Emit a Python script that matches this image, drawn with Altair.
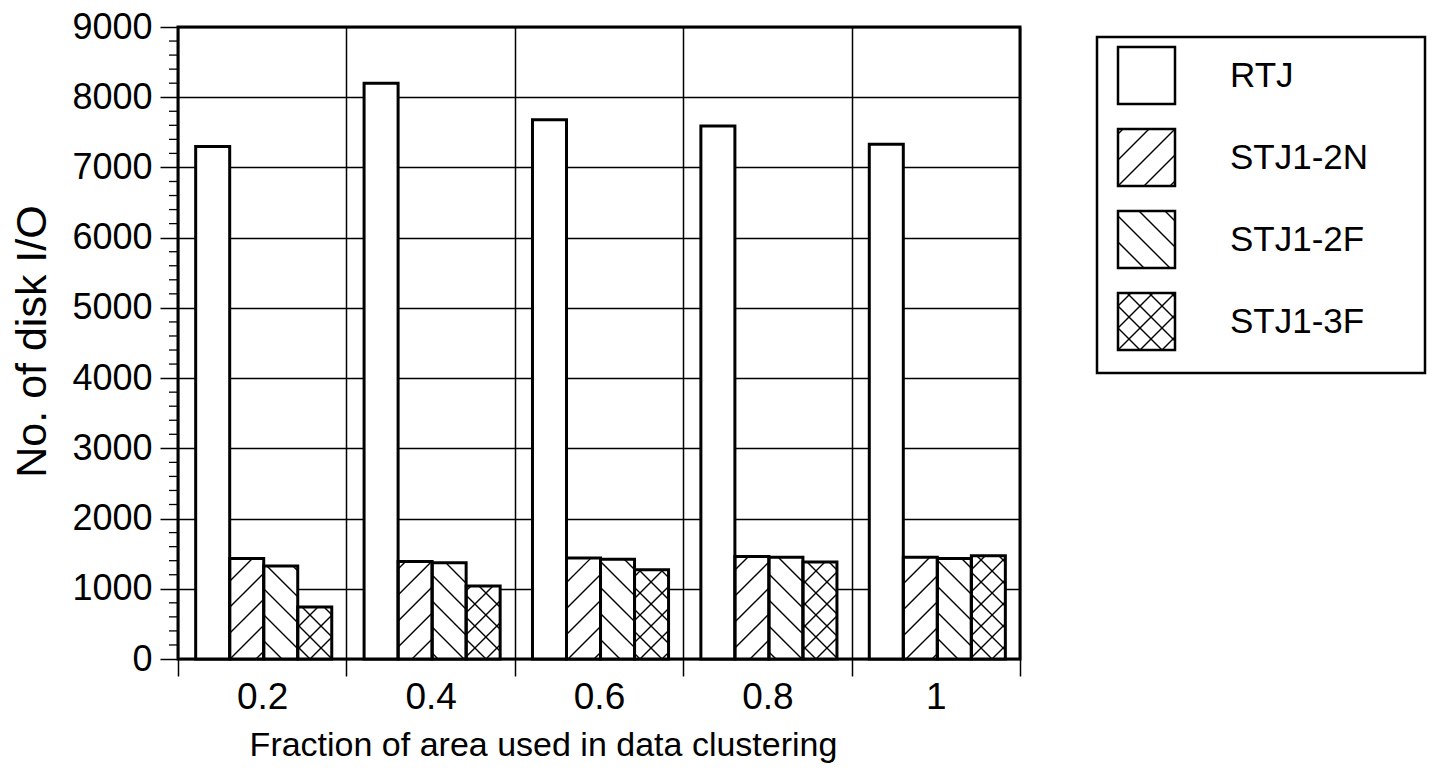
import json

import altair as alt
import pandas as pd

# --- data -------------------------------------------------------------------
FRACTIONS = ["0.2", "0.4", "0.6", "0.8", "1"]
SERIES = ["RTJ", "STJ1-2N", "STJ1-2F", "STJ1-3F"]
RTJ = [7300, 8200, 7680, 7590, 7330]
STJ1_2N = [1430, 1390, 1440, 1460, 1450]
STJ1_2F = [1325, 1370, 1420, 1450, 1430]
STJ1_3F = [740, 1040, 1270, 1380, 1470]
VALUES = {"RTJ": RTJ, "STJ1-2N": STJ1_2N, "STJ1-2F": STJ1_2F, "STJ1-3F": STJ1_3F}
Y_TICKS = list(range(0, 9001, 1000))

# --- layout / style ---------------------------------------------------------
W, H = 842, 632              # plot area in px
PAD_L, PAD_T = 178, 27
TOTAL_W, TOTAL_H = 1437, 772
YMAX = 9000
NG = len(FRACTIONS)
GROUP_LEFT = 0.105           # gap before the first bar of a group (fraction of a group)
BAR_W = 0.202                # bar width (fraction of a group)
FONT = "Liberation Sans"

# hatch families per series: (direction, spacing in px); +1 = "/", -1 = "\"
HATCH = {
    "RTJ": [],
    "STJ1-2N": [(1, 26)],
    "STJ1-2F": [(-1, 26)],
    "STJ1-3F": [(1, 22), (-1, 22)],
}

PX_X = W / NG        # px per x unit
PX_Y = H / YMAX      # px per y unit


def hatch_segments(x0, x1, u0, u1, direction, spacing):
    """Line segments of a 45 degree hatch clipped to the box [x0,x1] x [u0,u1] (u upward)."""
    segs = []
    if direction > 0:          # u = x + c
        lo, hi = u0 - x1, u1 - x0
    else:                      # u = c - x
        lo, hi = x0 + u0, x1 + u1
    k = int(lo // spacing)
    while k * spacing <= hi:
        c = k * spacing
        if direction > 0:
            xs, xe = max(x0, u0 - c), min(x1, u1 - c)
            if xe - xs > 0.5:
                segs.append((xs, xs + c, xe, xe + c))
        else:
            xs, xe = max(x0, c - u1), min(x1, c - u0)
            if xe - xs > 0.5:
                segs.append((xs, c - xs, xe, c - xe))
        k += 1
    return segs


# --- bars --------------------------------------------------------------------
bar_rows, hatch_rows = [], []
for gi, frac in enumerate(FRACTIONS):
    for si, s in enumerate(SERIES):
        v = VALUES[s][gi]
        x0 = gi + GROUP_LEFT + si * BAR_W
        x1 = x0 + BAR_W
        bar_rows.append({"fraction": frac, "series": s, "value": v, "base": 0,
                         "x0": x0, "x1": x1})
        for direction, spacing in HATCH[s]:
            for a, b, c, d in hatch_segments(x0 * PX_X, x1 * PX_X, 0, v * PX_Y,
                                             direction, spacing):
                hatch_rows.append({"hx": a / PX_X, "hy": b / PX_Y,
                                   "hx2": c / PX_X, "hy2": d / PX_Y})

bars = pd.DataFrame(bar_rows)
hatches = pd.DataFrame(hatch_rows)
minor = pd.DataFrame({"v": [t for t in range(0, YMAX + 1, 200) if t % 1000]})

x_scale = alt.Scale(domain=[0, NG], nice=False, zero=False)
y_scale = alt.Scale(domain=[0, YMAX], nice=False)

label_js = json.dumps(FRACTIONS)
x_axis = alt.Axis(
    values=list(range(NG + 1)),
    labelExpr=f"datum.value < {NG} ? {label_js}[datum.value] : ''",
    labelOffset=W / NG / 2,
    labelFlush=False,
    labelOverlap=False,
    labelPadding=3,
    labelFontSize=37,
    tickSize=17,
    grid=True,
    titleX=365,
    titleY=86,
    titleBaseline="middle",
    titleAlign="center",
)
y_axis = alt.Axis(
    values=Y_TICKS,
    format="d",
    tickSize=18,
    labelPadding=8,
    labelFontSize=36,
    grid=True,
    labelOverlap=False,
    titleX=-146,
    titleY=H / 2 - 2,
    titleBaseline="middle",
    titleAlign="center",
    titleFontSize=43,
)

base = alt.Chart(bars)
enc = dict(
    x=alt.X("x0:Q", scale=x_scale, axis=x_axis,
            title="Fraction of area used in data clustering"),
    x2="x1:Q",
    y=alt.Y("value:Q", scale=y_scale, axis=y_axis, title="No. of disk I/O"),
    y2="base:Q",
)
bar_fill = base.mark_rect(fill="white", strokeWidth=0).encode(**enc)
bar_edge = base.mark_rect(filled=False, stroke="black", strokeWidth=3).encode(**enc)

hatch_layer = alt.Chart(hatches).mark_rule(color="black", strokeWidth=1.4).encode(
    x=alt.X("hx:Q", scale=x_scale), x2="hx2:Q",
    y=alt.Y("hy:Q", scale=y_scale), y2="hy2:Q",
)

minor_ticks = alt.Chart(minor).mark_rule(color="black", strokeWidth=1.3).encode(
    y=alt.Y("v:Q", scale=y_scale), x=alt.value(-9), x2=alt.value(0),
)

# --- legend (pixel space, right of the plot) --------------------------------
LEG_X0, LEG_X1, LEG_Y0, LEG_Y1 = 919, 1247, 10, 346
SW_X0, SW_SIZE, SW_Y0, ROW = 940, 57, 20, 82
TXT_X = 1052

leg_rows, leg_hatch = [], []
for r, s in enumerate(SERIES):
    y0 = SW_Y0 + r * ROW
    leg_rows.append({"series": s, "sx0": SW_X0, "sx1": SW_X0 + SW_SIZE,
                     "sy0": y0, "sy1": y0 + SW_SIZE, "tx": TXT_X,
                     "ty": y0 + SW_SIZE / 2})
    for direction, spacing in HATCH[s]:
        # u measured upward from the swatch bottom
        for a, b, c, d in hatch_segments(0, SW_SIZE, 0, SW_SIZE, direction, spacing):
            leg_hatch.append({"lx": SW_X0 + a, "ly": y0 + SW_SIZE - b,
                              "lx2": SW_X0 + c, "ly2": y0 + SW_SIZE - d})
legend_df = pd.DataFrame(leg_rows)
legend_hatch_df = pd.DataFrame(leg_hatch)

legend_box = alt.Chart(pd.DataFrame({"k": [0]})).mark_rect(
    fill="white", stroke="black", strokeWidth=2.5
).encode(x=alt.value(LEG_X0), x2=alt.value(LEG_X1),
         y=alt.value(LEG_Y0), y2=alt.value(LEG_Y1))

sw_enc = dict(x=alt.X("sx0:Q", scale=None), x2="sx1:Q",
              y=alt.Y("sy0:Q", scale=None), y2="sy1:Q")
legend_fill = alt.Chart(legend_df).mark_rect(fill="white", strokeWidth=0).encode(**sw_enc)
legend_hatch = alt.Chart(legend_hatch_df).mark_rule(color="black", strokeWidth=1.4).encode(
    x=alt.X("lx:Q", scale=None), x2="lx2:Q",
    y=alt.Y("ly:Q", scale=None), y2="ly2:Q",
)
legend_edge = alt.Chart(legend_df).mark_rect(
    filled=False, stroke="black", strokeWidth=2.5).encode(**sw_enc)
legend_text = alt.Chart(legend_df).mark_text(
    align="left", baseline="middle", font=FONT, fontSize=35, color="black"
).encode(x=alt.X("tx:Q", scale=None), y=alt.Y("ty:Q", scale=None), text="series:N")

chart = alt.layer(
    bar_fill, hatch_layer, bar_edge, minor_ticks,
    legend_box, legend_fill, legend_hatch, legend_edge, legend_text,
).properties(
    width=W,
    height=H,
    autosize=alt.AutoSizeParams(type="none"),
    padding={"left": PAD_L, "top": PAD_T,
             "right": TOTAL_W - PAD_L - W, "bottom": TOTAL_H - PAD_T - H},
    background="white",
).configure_view(
    stroke="black", strokeWidth=3,
).configure_axis(
    labelFont=FONT, labelFontSize=34, labelColor="black",
    titleFont=FONT, titleFontSize=34, titleFontWeight="normal", titleColor="black",
    tickColor="black", tickWidth=1.5,
    gridColor="black", gridWidth=1.5, gridOpacity=1,
    domain=False,
)

chart.save("out.html", embed_options={"renderer": "svg", "actions": False})
